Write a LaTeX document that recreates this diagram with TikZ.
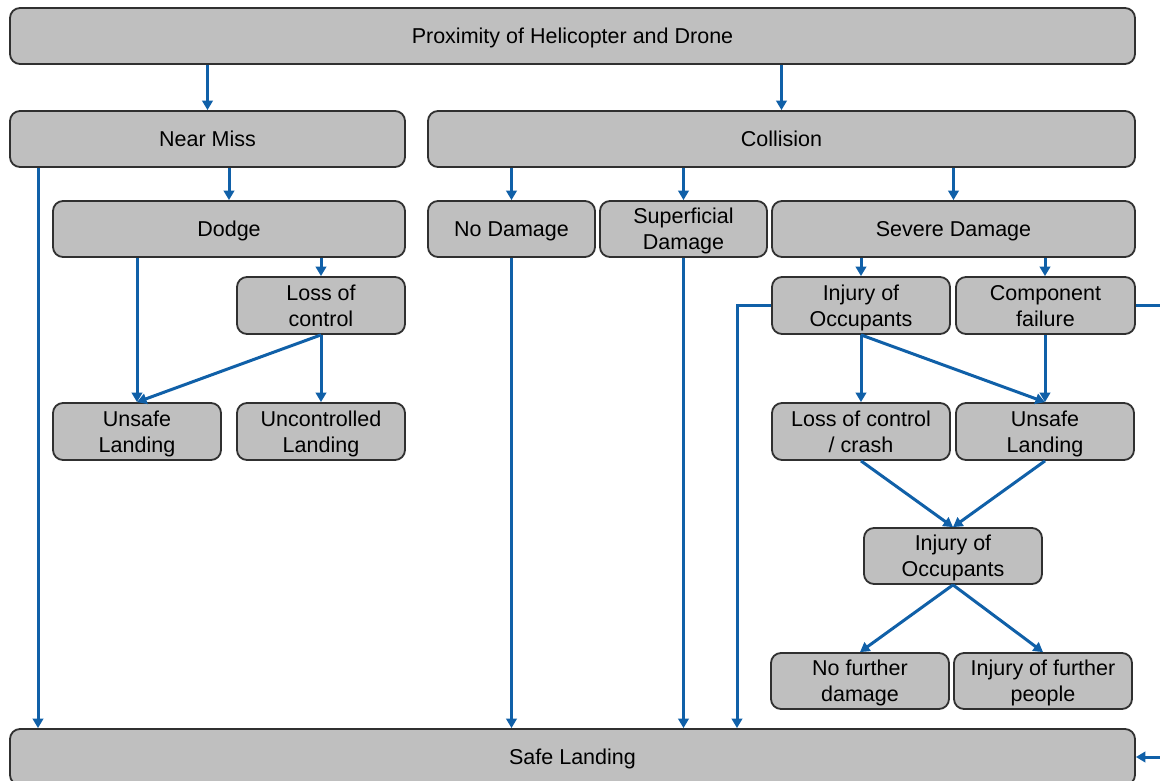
\documentclass[tikz,border=0pt]{standalone}
\usepackage{fontspec}
\setmainfont{Liberation Sans}
\usetikzlibrary{arrows.meta}
\definecolor{boxfill}{HTML}{BFBFBF}
\definecolor{boxline}{HTML}{303030}
\definecolor{arrblue}{HTML}{1060A8}
\newcommand{\st}{\rule[-4.5pt]{0pt}{24.5pt}}
\begin{document}
\begin{tikzpicture}[x=1pt,y=-1pt,
  box/.style={draw=boxline, fill=boxfill, line width=1.8pt, rounded corners=10pt,
    inner sep=0pt, align=center, text=black,
    font=\fontsize{21.5}{26}\selectfont},
  arr/.style={draw=arrblue, line width=3pt, -{Triangle[width=10.5pt,length=9.5pt]}}]
\useasboundingbox (0,0) rectangle (1160,780);
\clip (0,0) rectangle (1160,780);
\node[box, minimum width=1125, minimum height=56] (top) at (572.5,36) {\st Proximity of Helicopter and Drone};
\node[box, minimum width=395, minimum height=56] (nm) at (207.5,139) {\st Near Miss};
\node[box, minimum width=707, minimum height=56] (col) at (781.5,139) {\st Collision};
\node[box, minimum width=352, minimum height=56] (dodge) at (229,229) {\st Dodge};
\node[box, minimum width=167, minimum height=56] (nodmg) at (511.5,229) {\st No Damage};
\node[box, minimum width=167, minimum height=56] (sup) at (683.5,229) {\st Superficial\\\st Damage};
\node[box, minimum width=363, minimum height=56] (sev) at (953.5,229) {\st Severe Damage};
\node[box, minimum width=168, minimum height=57] (loc) at (321,305.5) {\st Loss of\\\st control};
\node[box, minimum width=178, minimum height=57] (inj1) at (861,305.5) {\st Injury of\\\st Occupants};
\node[box, minimum width=179, minimum height=57] (comp) at (1045.5,305.5) {\st Component\\\st failure};
\node[box, minimum width=168, minimum height=57] (uns1) at (137,431.5) {\st Unsafe\\\st Landing};
\node[box, minimum width=168, minimum height=57] (unc) at (321,431.5) {\st Uncontrolled\\\st Landing};
\node[box, minimum width=178, minimum height=57] (locc) at (861,431.5) {\st Loss of control\\\st / crash};
\node[box, minimum width=178, minimum height=57] (uns2) at (1045,431.5) {\st Unsafe\\\st Landing};
\node[box, minimum width=178, minimum height=56] (inj2) at (953,556) {\st Injury of\\\st Occupants};
\node[box, minimum width=178, minimum height=56] (nofd) at (860,681) {\st No further\\\st damage};
\node[box, minimum width=178, minimum height=56] (injf) at (1043,681) {\st Injury of further\\\st people};
\node[box, minimum width=1125, minimum height=56] (safe) at (572.5,757) {\st Safe Landing};
\coordinate (xa) at (38,0);
\coordinate (xb) at (737,0);
\coordinate (xc) at (1170,0);
% arrows
\draw[arr] (top.south -| nm.north) -- (nm.north);
\draw[arr] (top.south -| col.north) -- (col.north);
\draw[arr] (nm.south -| dodge.north) -- (dodge.north);
\draw[arr] (nm.south -| xa) -- (safe.north -| xa);
\draw[arr] (col.south -| nodmg.north) -- (nodmg.north);
\draw[arr] (col.south -| sup.north) -- (sup.north);
\draw[arr] (col.south -| sev.north) -- (sev.north);
\draw[arr] (dodge.south -| uns1.north) -- (uns1.north);
\draw[arr] (dodge.south -| loc.north) -- (loc.north);
\draw[arr] (loc.south) -- (uns1.north);
\draw[arr] (loc.south) -- (unc.north);
\draw[arr] (nodmg.south) -- (safe.north -| nodmg.south);
\draw[arr] (sup.south) -- (safe.north -| sup.south);
\draw[arr] (sev.south -| inj1.north) -- (inj1.north);
\draw[arr] (sev.south -| uns2.north) -- (comp.north -| uns2.north);
\draw[arr] (inj1.west) -| (safe.north -| xb);
\draw[arr] (comp.east) -| (xc |- safe.east) -- (safe.east);
\draw[arr] (inj1.south) -- (locc.north);
\draw[arr] (inj1.south) -- (uns2.north);
\draw[arr] (comp.south -| uns2.north) -- (uns2.north);
\draw[arr] (locc.south) -- (inj2.north);
\draw[arr] (uns2.south) -- (inj2.north);
\draw[arr] (inj2.south) -- (nofd.north);
\draw[arr] (inj2.south) -- (injf.north);
\end{tikzpicture}
\end{document}
